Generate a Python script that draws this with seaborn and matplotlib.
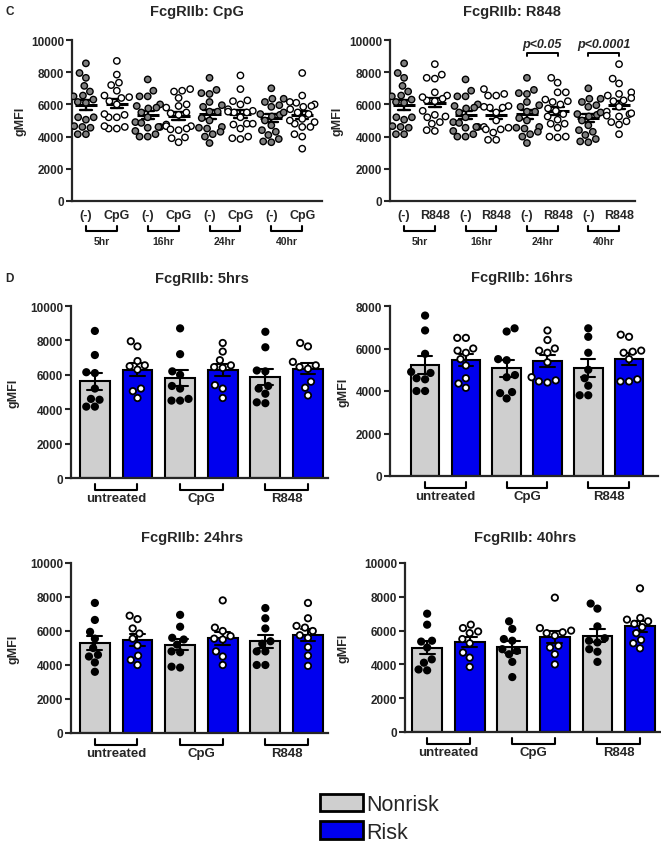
import warnings
import numpy as np
import pandas as pd
import matplotlib.pyplot as plt
import seaborn as sns
from matplotlib.patches import Patch

warnings.filterwarnings("ignore")

# ---------------- Data (gMFI per donor) ----------------
treatments = ["untreated", "CpG", "R848"]
hours = ["5hr", "16hr", "24hr", "40hr"]
groups = ["Nonrisk", "Risk"]

# each list: [untreated, CpG, R848]
nonrisk_5hrs = [
    [8550, 7150, 6150, 6100, 5200, 4600, 4550, 4150, 4150],
    [8700, 7200, 6200, 6000, 5350, 5200, 4600, 4500, 4500],
    [8500, 7600, 6250, 6200, 5350, 5200, 4900, 4400, 4350],
]
risk_5hrs = [
    [7950, 7650, 6800, 6550, 6500, 6300, 5200, 5050, 4650],
    [7850, 7350, 6850, 6550, 6450, 6400, 5400, 5200, 4650],
    [7850, 7650, 6750, 6550, 6450, 6350, 5600, 5250, 4800],
]
nonrisk_16hrs = [
    [7550, 6850, 5750, 4900, 4850, 4600, 4550, 4000, 4000],
    [6950, 6800, 5500, 5450, 4750, 4650, 3950, 3900, 3650],
    [6950, 6550, 5800, 5000, 4600, 4250, 3800, 3800],
]
risk_16hrs = [
    [6500, 6500, 6000, 5900, 5800, 5500, 5200, 4600, 4350, 4150],
    [6850, 6400, 6000, 5900, 5800, 5350, 4650, 4500, 4450, 4400],
    [6650, 6550, 5900, 5850, 5800, 5500, 4550, 4450, 4450],
]
nonrisk_24hrs = [
    [7650, 6650, 5950, 5550, 5000, 4600, 4500, 4150, 3600],
    [6950, 6250, 5600, 5500, 5200, 4800, 4750, 3900, 3850],
    [7350, 6750, 6150, 5400, 5250, 4800, 4800, 4000, 4000],
]
risk_24hrs = [
    [6900, 6700, 6150, 5850, 5550, 5150, 4550, 4300, 4000],
    [7800, 6200, 6000, 5700, 5550, 5500, 4800, 4500, 4000],
    [7650, 6750, 6300, 6200, 6000, 5750, 5600, 5050, 4550, 3950],
]
nonrisk_40hrs = [
    [7000, 6350, 5400, 5350, 5000, 4300, 4100, 3700, 3650],
    [6550, 6100, 5500, 5400, 4900, 4800, 4600, 4150, 3250],
    [7600, 7300, 6250, 5550, 5400, 5300, 4900, 4750, 4150],
]
risk_40hrs = [
    [6350, 6150, 5950, 5850, 5500, 5250, 4700, 4400, 3850],
    [7950, 6150, 6000, 5900, 5850, 5700, 5100, 5000, 4600, 4000],
    [8500, 6750, 6650, 6550, 6400, 6200, 5850, 5450, 5250, 4950],
]

nonrisk_all = [nonrisk_5hrs, nonrisk_16hrs, nonrisk_24hrs, nonrisk_40hrs]
risk_all = [risk_5hrs, risk_16hrs, risk_24hrs, risk_40hrs]
d_titles = ["FcgRIIb: 5hrs", "FcgRIIb: 16hrs", "FcgRIIb: 24hrs", "FcgRIIb: 40hrs"]

# ---------------- Style ----------------
sns.set_style("ticks")
plt.rcParams["font.family"] = ["Liberation Sans", "DejaVu Sans"]
plt.rcParams["font.weight"] = "bold"
plt.rcParams["axes.labelweight"] = "bold"

GRAY = "#cfcfcf"
BLUE = "#0000ee"
W, H = 661, 845

fig = plt.figure(figsize=(W / 100, H / 100), dpi=100)


def add_ax(l, t, r, b):
    return fig.add_axes([l / W, 1 - b / H, (r - l) / W, (b - t) / H])


def style_axis(ax, ymax, step, xlim, ylab_px):
    ax.set_ylim(0, ymax)
    ax.set_yticks(np.arange(0, ymax + 1, step))
    ax.set_xlim(*xlim)
    sns.despine(ax=ax)
    for s in ("left", "bottom"):
        ax.spines[s].set_linewidth(1.6)
    ax.tick_params(axis="y", width=1.5, length=4, labelsize=8.5, pad=1.5)
    ax.set_xlabel("")
    ax.set_ylabel("gMFI", fontsize=9)
    w_px = ax.get_position().width * W
    ax.yaxis.set_label_coords(ylab_px / w_px, 0.5)


def bracket(ax, x0, x1, label, top, low, txt, fs):
    h_px = ax.get_position().height * H
    tr = ax.get_xaxis_transform()
    ax.plot([x0, x0, x1, x1], [-top / h_px, -low / h_px, -low / h_px, -top / h_px],
            transform=tr, color="k", lw=1.5, clip_on=False)
    ax.text((x0 + x1) / 2, -txt / h_px, label, transform=tr, ha="center",
            va="center", fontsize=fs)


# ---------------- Panel C ----------------
def panel_c(ax, stim, xlim, ylab_px):
    idx = treatments.index(stim)
    rows = []
    order = []
    for h, nr, rk in zip(hours, nonrisk_all, risk_all):
        for kind, k in (("ctrl", 0), ("stim", idx)):
            cond = f"{h} {kind}"
            order.append(cond)
            rows += [(cond, kind, v) for v in nr[k] + rk[k]]
    df = pd.DataFrame(rows, columns=["cond", "kind", "gMFI"])

    sns.swarmplot(data=df, x="cond", y="gMFI", order=order, hue="kind",
                  palette={"ctrl": "#7f7f7f", "stim": "white"}, size=4.6,
                  edgecolor="k", linewidth=1.0, legend=False, ax=ax)
    sns.pointplot(data=df, x="cond", y="gMFI", order=order, errorbar="se",
                  color="k", markers="_", markersize=16, markeredgewidth=2.2,
                  linestyle="none", capsize=0.4, err_kws={"linewidth": 1.7}, ax=ax)

    style_axis(ax, 10000, 2000, xlim, ylab_px)
    ax.set_xticks(range(8))
    ax.set_xticklabels(["(-)", stim] * 4, fontsize=9)
    ax.tick_params(axis="x", length=0, pad=6)
    for i, h in enumerate(hours):
        bracket(ax, 2 * i, 2 * i + 1, h, 25, 30, 40, 7.5)


ax_c1 = add_ax(72, 41, 322, 202)
panel_c(ax_c1, "CpG", (-0.45, 7.64), -45)
ax_c2 = add_ax(390, 41, 635, 202)
panel_c(ax_c2, "R848", (-0.46, 7.52), -46)

# significance marks (R848 panel)
for x0, x1, lab in ((4, 5, "p<0.05"), (6, 7, "p<0.0001")):
    ax_c2.plot([x0, x0, x1, x1], [9000, 9190, 9190, 9000], color="k", lw=1.4, clip_on=False)
    ax_c2.text((x0 + x1) / 2, 9750, lab, ha="center", va="center", fontsize=9,
               style="italic", clip_on=False)

fig.text(197 / W, 1 - 12 / H, "FcgRIIb: CpG", ha="center", va="center", fontsize=10.5)
fig.text(512 / W, 1 - 12 / H, "FcgRIIb: R848", ha="center", va="center", fontsize=10.5)

# ---------------- Panel D ----------------
d_boxes = [
    ((71, 307, 328, 479), 10000, 2000, (-0.56, 5.47), -52),
    ((390, 307, 658, 477), 8000, 2000, (-0.86, 5.71), -41),
    ((71, 564, 328, 734), 10000, 2000, (-0.56, 5.47), -52),
    ((405, 564, 660, 733), 10000, 2000, (-0.52, 5.47), -56),
]
d_title_pos = [(202, 279), (522, 278), (192, 538), (525, 538)]
cond_order = [f"{t} {g}" for t in treatments for g in groups]

for i, (box, ymax, step, xlim, ylab_px) in enumerate(d_boxes):
    ax = add_ax(*box)
    rows = []
    for grp, vals in (("Nonrisk", nonrisk_all[i]), ("Risk", risk_all[i])):
        for t, v in zip(treatments, vals):
            rows += [(f"{t} {grp}", grp, x) for x in v]
    df = pd.DataFrame(rows, columns=["cond", "group", "gMFI"])

    sns.barplot(data=df, x="cond", y="gMFI", order=cond_order, hue="group",
                hue_order=groups, palette=[GRAY, BLUE], saturation=1, dodge=False,
                width=0.7, errorbar="se", capsize=0.35,
                err_kws={"color": "k", "linewidth": 1.5},
                edgecolor="k", linewidth=1.5, legend=False, ax=ax)
    sns.swarmplot(data=df, x="cond", y="gMFI", order=cond_order, hue="group",
                  hue_order=groups, palette={"Nonrisk": "k", "Risk": "white"},
                  size=4.6, edgecolor="k", linewidth=1.3, legend=False, ax=ax)

    style_axis(ax, ymax, step, xlim, ylab_px)
    ax.set_xticks([])
    for j, t in enumerate(treatments):
        bracket(ax, 2 * j, 2 * j + 1, t, 6, 12, 20, 9.5)

    tx, ty = d_title_pos[i]
    fig.text(tx / W, 1 - ty / H, d_titles[i], ha="center", va="center", fontsize=10.5)

# panel letters
fig.text(5 / W, 1 - 12 / H, "C", ha="left", va="center", fontsize=8.5)
fig.text(5 / W, 1 - 279 / H, "D", ha="left", va="center", fontsize=8.5)

# ---------------- Legend ----------------
handles = [Patch(facecolor=GRAY, edgecolor="k", linewidth=2),
           Patch(facecolor=BLUE, edgecolor="k", linewidth=2)]
fig.legend(handles, groups, loc="upper left", bbox_to_anchor=(320 / W, 1 - 795 / H),
           frameon=False, prop={"size": 15.5, "weight": "normal"},
           handlelength=2.0, handleheight=0.85, handletextpad=0.15,
           labelspacing=0.3, borderpad=0, borderaxespad=0)

fig.savefig("out.png", dpi=100)
